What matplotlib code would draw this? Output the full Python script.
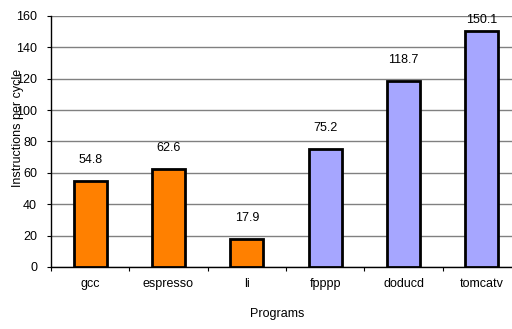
import matplotlib.pyplot as plt
import numpy as np

programs = ["gcc", "espresso", "li", "fpppp", "doducd", "tomcatv"]
ipc = [54.8, 62.6, 17.9, 75.2, 118.7, 150.1]
bar_colors = ["#FF8000", "#FF8000", "#FF8000", "#A6A6FF", "#A6A6FF", "#A6A6FF"]

plt.rcParams['font.family'] = ['Liberation Sans', 'DejaVu Sans']
fs = 9

fig = plt.figure(figsize=(5.12, 3.29), dpi=100)
ax = fig.add_axes([0.0996, 0.1885, 0.918, 0.763])

x = np.arange(len(programs))
ax.bar(x, ipc, width=0.42, color=bar_colors, edgecolor="black", linewidth=2, zorder=3)

# value labels above each bar, kept inside the top of the axes
for xi, v in zip(x, ipc):
    y = min(v + 13.4, 157.4)
    ax.text(xi, y, f"{v}", ha="center", va="center", fontsize=fs)

ax.set_xlim(-0.5, len(programs) - 0.5)
ax.set_ylim(0, 160)
ax.set_yticks(range(0, 161, 20))
ax.yaxis.grid(True, color="#808080", linewidth=1, zorder=0)

ax.set_xticks(x)
ax.set_xticklabels(programs, fontsize=fs)
ax.set_xticks(np.arange(-0.5, len(programs), 1), minor=True)
ax.tick_params(axis="x", which="major", length=0, pad=8)
ax.tick_params(axis="x", which="minor", length=3, width=0.8)
ax.tick_params(axis="y", labelsize=fs, length=3, width=0.8, pad=7)

for side in ["top", "right"]:
    ax.spines[side].set_visible(False)
ax.spines["left"].set_linewidth(1)
ax.spines["bottom"].set_linewidth(1)

ax.set_ylabel("Instructions per cycle", fontsize=fs)
ax.yaxis.set_label_coords(-0.057, 0.554)
ax.set_xlabel("Programs", fontsize=fs)
ax.xaxis.set_label_coords(0.481, -0.165)

fig.savefig("out.png", dpi=100)
